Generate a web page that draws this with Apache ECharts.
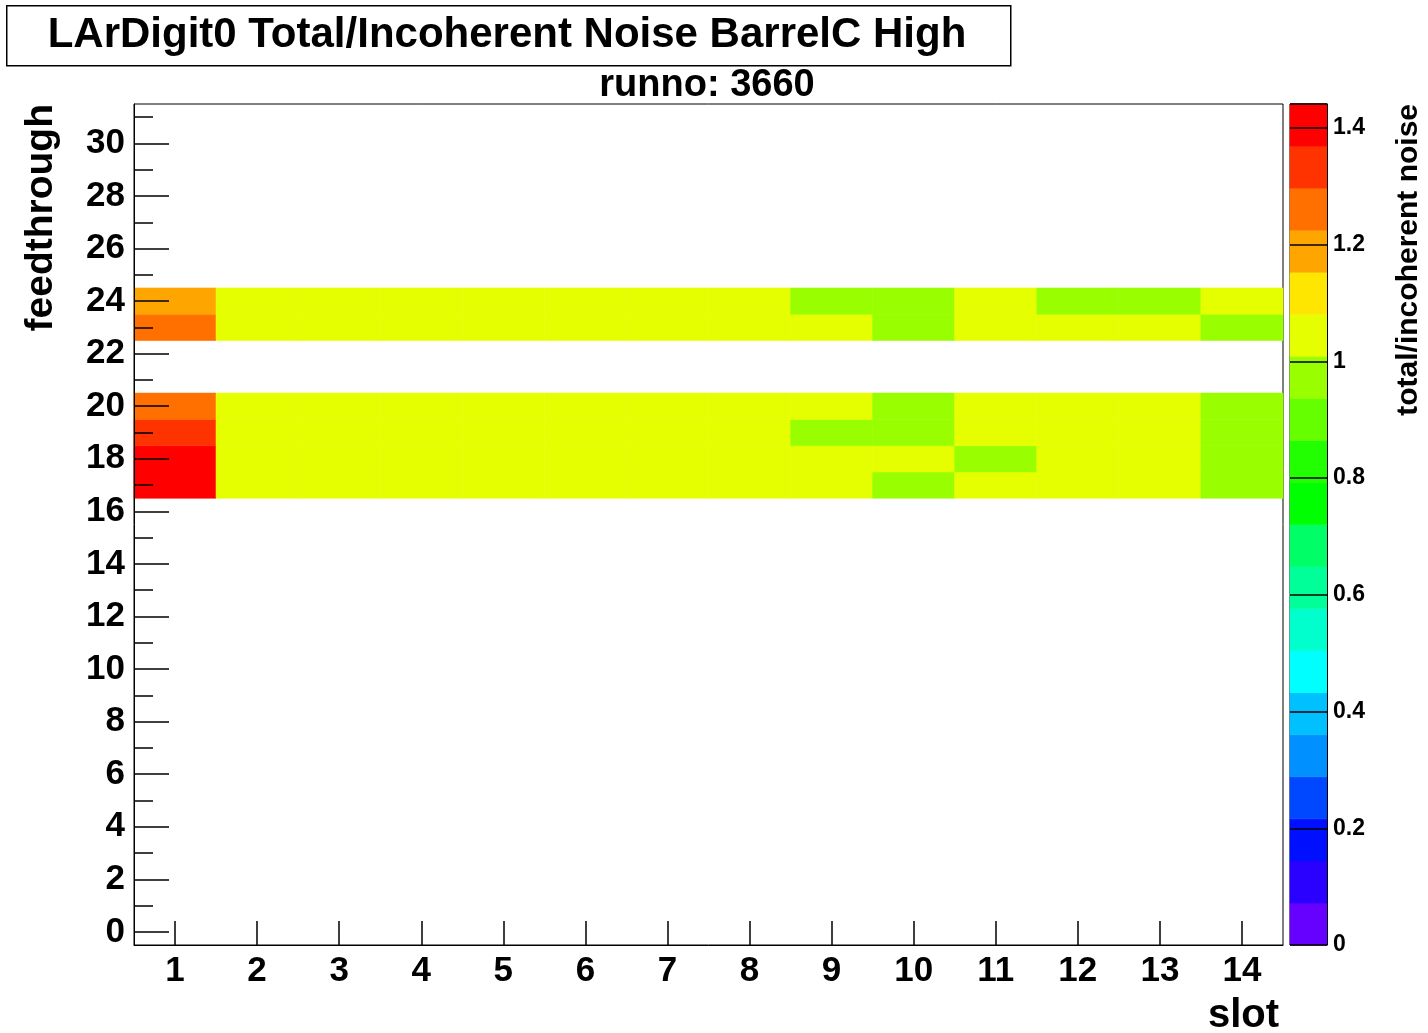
<!DOCTYPE html>
<html>
<head>
<meta charset="utf-8">
<title>LArDigit0 Total/Incoherent Noise BarrelC High</title>
<script src="https://cdn.jsdelivr.net/npm/echarts@6/dist/echarts.min.js"></script>
<style>
  html, body { margin: 0; padding: 0; background: #fff; }
  #chart { width: 1428px; height: 1033px; }
</style>
</head>
<body>
<div id="chart"></div>
<script>
// slot / feedthrough bins
const slots = ['1', '2', '3', '4', '5', '6', '7', '8', '9', '10', '11', '12', '13', '14'];
const feedthroughs = ['0', '1', '2', '3', '4', '5', '6', '7', '8', '9', '10', '11', '12', '13', '14', '15',
  '16', '17', '18', '19', '20', '21', '22', '23', '24', '25', '26', '27', '28', '29', '30', '31'];

// total/incoherent noise per slot, only the filled feedthroughs
const ft17 = [1.44, 1.04, 1.04, 1.03, 1.04, 1.04, 1.03, 1.04, 1.03, 0.98, 1.03, 1.04, 1.03, 0.97];
const ft18 = [1.40, 1.04, 1.03, 1.04, 1.04, 1.03, 1.04, 1.03, 1.04, 1.02, 0.98, 1.03, 1.04, 0.97];
const ft19 = [1.33, 1.03, 1.04, 1.04, 1.03, 1.04, 1.04, 1.03, 0.99, 0.98, 1.03, 1.04, 1.03, 0.98];
const ft20 = [1.26, 1.04, 1.03, 1.04, 1.04, 1.03, 1.04, 1.04, 1.02, 0.98, 1.04, 1.03, 1.04, 0.98];
const ft23 = [1.26, 1.03, 1.04, 1.04, 1.03, 1.04, 1.03, 1.04, 1.02, 0.98, 1.03, 1.04, 1.03, 0.99];
const ft24 = [1.19, 1.04, 1.04, 1.03, 1.04, 1.04, 1.03, 1.03, 0.99, 0.98, 1.03, 0.99, 0.99, 1.03];
const filledRows = { 17: ft17, 18: ft18, 19: ft19, 20: ft20, 23: ft23, 24: ft24 };

// z axis
const zMax = 1.441;
const palette = ['#6600ff', '#2a00ff', '#0010ff', '#0048ff', '#0090ff', '#00c0ff', '#00ffff', '#00ffcc',
  '#00ff99', '#00ff66', '#00ff00', '#22ff00', '#66ff00', '#99ff00', '#e5ff00', '#ffe600',
  '#ffa500', '#ff7000', '#ff3300', '#ff0000'];

const nLevels = palette.length;
const dz = zMax / nLevels;

const cells = [];
Object.keys(filledRows).forEach((ft) => {
  filledRows[ft].forEach((v, i) => {
    cells.push([i, Number(ft), v]);
  });
});

const levels = palette.map((c, i) => [i * dz, (i + 1) * dz, i]);
const pieces = palette.map((c, i) => (i === nLevels - 1
  ? { gte: i * dz, lte: zMax + 1e-9, color: c }
  : { gte: i * dz, lt: (i + 1) * dz, color: c }));

const FONT = 'Liberation Sans, Arial, Helvetica, sans-serif';
const black = { color: '#000', width: 1.5 };

const myChart = echarts.init(document.getElementById('chart'));

const option = {
  backgroundColor: '#fff',
  animation: false,
  grid: [
    { left: 134, right: 145, top: 104, bottom: 88, show: true, borderColor: '#000', borderWidth: 1, backgroundColor: '#fff' },
    { left: 1290, width: 37, top: 104, bottom: 88, show: true, borderColor: '#000', borderWidth: 1 }
  ],
  xAxis: [
    {
      type: 'category',
      gridIndex: 0,
      z: 5,
      data: slots,
      boundaryGap: true,
      axisLine: { show: true, lineStyle: { color: '#000', width: 1 } },
      axisTick: { show: true, alignWithLabel: true, inside: true, length: 24, lineStyle: black },
      axisLabel: { color: '#000', fontFamily: FONT, fontWeight: 'bold', fontSize: 35, margin: 9 },
      splitLine: { show: false }
    },
    {
      type: 'value',
      gridIndex: 1,
      min: 0,
      max: 1,
      show: false
    }
  ],
  yAxis: [
    {
      type: 'category',
      gridIndex: 0,
      position: 'left',
      z: 5,
      data: feedthroughs,
      boundaryGap: true,
      axisLine: { show: true, lineStyle: { color: '#000', width: 1 } },
      axisTick: { show: true, interval: 1, alignWithLabel: true, inside: true, length: 35, lineStyle: black },
      axisLabel: { interval: 1, color: '#000', fontFamily: FONT, fontWeight: 'bold', fontSize: 35, margin: 9, padding: [8, 0, 0, 0] },
      splitLine: { show: false }
    },
    {
      type: 'category',
      gridIndex: 0,
      position: 'left',
      z: 5,
      data: feedthroughs,
      boundaryGap: true,
      axisLine: { show: false },
      axisTick: { show: true, interval: 0, alignWithLabel: true, inside: true, length: 19, lineStyle: black },
      axisLabel: { show: false },
      splitLine: { show: false }
    },
    {
      type: 'value',
      gridIndex: 1,
      position: 'right',
      z: 5,
      min: 0,
      max: zMax,
      interval: 0.2,
      axisLine: { show: true, onZero: false, lineStyle: { color: '#000', width: 1 } },
      axisTick: { show: true, inside: true, length: 37, lineStyle: black },
      axisLabel: {
        color: '#000', fontFamily: FONT, fontWeight: 'bold', fontSize: 23, margin: 6,
        formatter: (v) => {
          const k = v / 0.2;
          return Math.abs(k - Math.round(k)) < 1e-6 ? String(+v.toFixed(1)) : '';
        }
      },
      splitLine: { show: false }
    }
  ],
  visualMap: {
    type: 'piecewise',
    show: false,
    seriesIndex: 0,
    dimension: 2,
    pieces: pieces
  },
  series: [
    {
      name: 'noise',
      type: 'custom',
      xAxisIndex: 0,
      yAxisIndex: 0,
      encode: { x: 0, y: 1 },
      data: cells,
      renderItem: (params, api) => {
        const p = api.coord([api.value(0), api.value(1)]);
        const s = api.size([1, 1]);
        const c = api.visual('color');
        return {
          type: 'rect',
          shape: { x: p[0] - s[0] / 2, y: p[1] - s[1] / 2, width: s[0], height: s[1] },
          style: { fill: c, stroke: c, lineWidth: 0.6 }
        };
      },
      z: 1
    },
    {
      name: 'palette',
      type: 'custom',
      xAxisIndex: 1,
      yAxisIndex: 2,
      encode: { y: [0, 1] },
      data: levels,
      renderItem: (params, api) => {
        const p0 = api.coord([0, api.value(0)]);
        const p1 = api.coord([1, api.value(1)]);
        const c = palette[api.value(2)];
        return {
          type: 'rect',
          shape: { x: p0[0], y: p1[1], width: p1[0] - p0[0], height: p0[1] - p1[1] },
          style: { fill: c, stroke: c, lineWidth: 0.6 }
        };
      },
      z: 1
    }
  ],
  graphic: [
    {
      type: 'rect',
      left: 6, top: 5,
      shape: { width: 1004, height: 60 },
      style: { fill: '#fff', stroke: '#000', lineWidth: 1.5 }
    },
    {
      type: 'text',
      x: 507, y: 35,
      style: {
        text: 'LArDigit0 Total/Incoherent Noise BarrelC High',
        fill: '#000', font: 'bold 42px ' + FONT, align: 'center', verticalAlign: 'middle'
      }
    },
    {
      type: 'text',
      x: 707, y: 86,
      style: { text: 'runno: 3660', fill: '#000', font: 'bold 38px ' + FONT, align: 'center', verticalAlign: 'middle' }
    },
    {
      type: 'text',
      x: 1279, y: 1016,
      style: { text: 'slot', fill: '#000', font: 'bold 40px ' + FONT, align: 'right', verticalAlign: 'middle' }
    },
    {
      type: 'text',
      x: 41, y: 104,
      rotation: Math.PI / 2,
      style: { text: 'feedthrough', fill: '#000', font: 'bold 39px ' + FONT, align: 'right', verticalAlign: 'middle' }
    },
    {
      type: 'text',
      x: 1409, y: 104,
      rotation: Math.PI / 2,
      style: { text: 'total/incoherent noise', fill: '#000', font: 'bold 30px ' + FONT, align: 'right', verticalAlign: 'middle' }
    }
  ]
};

myChart.setOption(option);
</script>
</body>
</html>
